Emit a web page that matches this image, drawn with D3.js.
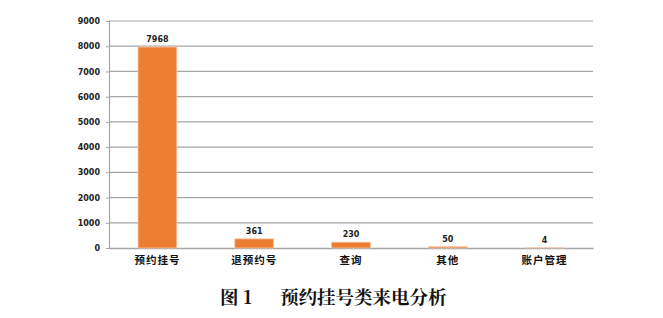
<!DOCTYPE html>
<html>
<head>
<meta charset="utf-8">
<script src="https://cdn.jsdelivr.net/npm/d3@7"></script>
<style>
body { margin: 0; background: #fff; }
</style>
</head>
<body>
<div id="screen"></div>
<script>
var categories = ["预约挂号", "退预约号", "查询", "其他", "账户管理"];
var values = [7968, 361, 230, 50, 4];
var yTicks = [0, 1000, 2000, 3000, 4000, 5000, 6000, 7000, 8000, 9000];
var titleLabel = "图 1";
var title = "预约挂号类来电分析";

var width = 663, height = 318;
var plotLeft = 109, plotRight = 593, plotTop = 21, plotBottom = 248;

var svg = d3.select("#screen").append("svg").attr("width", width).attr("height", height);

var x = d3.scaleBand().domain(categories).range([plotLeft, plotRight]).paddingInner(0.6).paddingOuter(0.3);
var y = d3.scaleLinear().domain([0, 9000]).range([plotBottom, plotTop]);

// gridlines
svg.append("g").selectAll("line").data(yTicks.slice(1)).enter().append("line")
    .attr("x1", plotLeft).attr("x2", plotRight)
    .attr("y1", d => y(d)).attr("y2", d => y(d))
    .attr("stroke", "#a6a6a6").attr("stroke-width", 1.2);

// y axis
var yAxis = svg.append("g").attr("transform", "translate(" + plotLeft + ",0)")
    .call(d3.axisLeft(y).tickValues(yTicks).tickFormat(d3.format("d")).tickSize(3).tickPadding(6));
yAxis.select(".domain").attr("stroke", "#a6a6a6").attr("stroke-width", 1.2);
yAxis.selectAll(".tick line").attr("stroke", "#a6a6a6");
yAxis.selectAll("text").attr("font-family", "DejaVu Sans, sans-serif").attr("font-size", "8px")
    .attr("font-weight", "bold").attr("fill", "#222");

// x axis
var xAxis = svg.append("g").attr("transform", "translate(0," + plotBottom + ")")
    .call(d3.axisBottom(x).tickSize(0).tickPadding(9));
xAxis.select(".domain").attr("stroke", "#a6a6a6").attr("stroke-width", 1.5);
xAxis.selectAll("text").attr("font-family", "Noto Sans CJK SC, sans-serif").attr("font-size", "10.5px")
    .attr("font-weight", "bold").attr("fill", "#111").attr("letter-spacing", "1px");

// bars
svg.append("g").selectAll("rect").data(values).enter().append("rect")
    .attr("x", (d, i) => x(categories[i]))
    .attr("width", x.bandwidth())
    .attr("y", d => y(d))
    .attr("height", d => plotBottom - y(d))
    .attr("fill", "#ed7d31")
    .attr("stroke", "#f6c3a0").attr("stroke-width", 0.8);

// value labels
svg.append("g").selectAll("text").data(values).enter().append("text")
    .attr("x", (d, i) => x(categories[i]) + x.bandwidth() / 2)
    .attr("y", d => y(d) - 5)
    .attr("text-anchor", "middle")
    .attr("font-family", "DejaVu Sans, sans-serif").attr("font-size", "8px")
    .attr("font-weight", "bold").attr("fill", "#222")
    .text(d => d);

// caption
svg.append("text")
    .attr("x", 220).attr("y", 304)
    .attr("font-family", "Noto Serif CJK SC, Noto Sans CJK SC, serif")
    .attr("font-size", "18.5px").attr("font-weight", "bold").attr("fill", "#111")
    .style("white-space", "pre")
    .text(titleLabel);
svg.append("text")
    .attr("x", 280).attr("y", 304)
    .attr("font-family", "Noto Serif CJK SC, Noto Sans CJK SC, serif")
    .attr("font-size", "18.5px").attr("font-weight", "bold").attr("fill", "#111")
    .text(title);
</script>
</body>
</html>
